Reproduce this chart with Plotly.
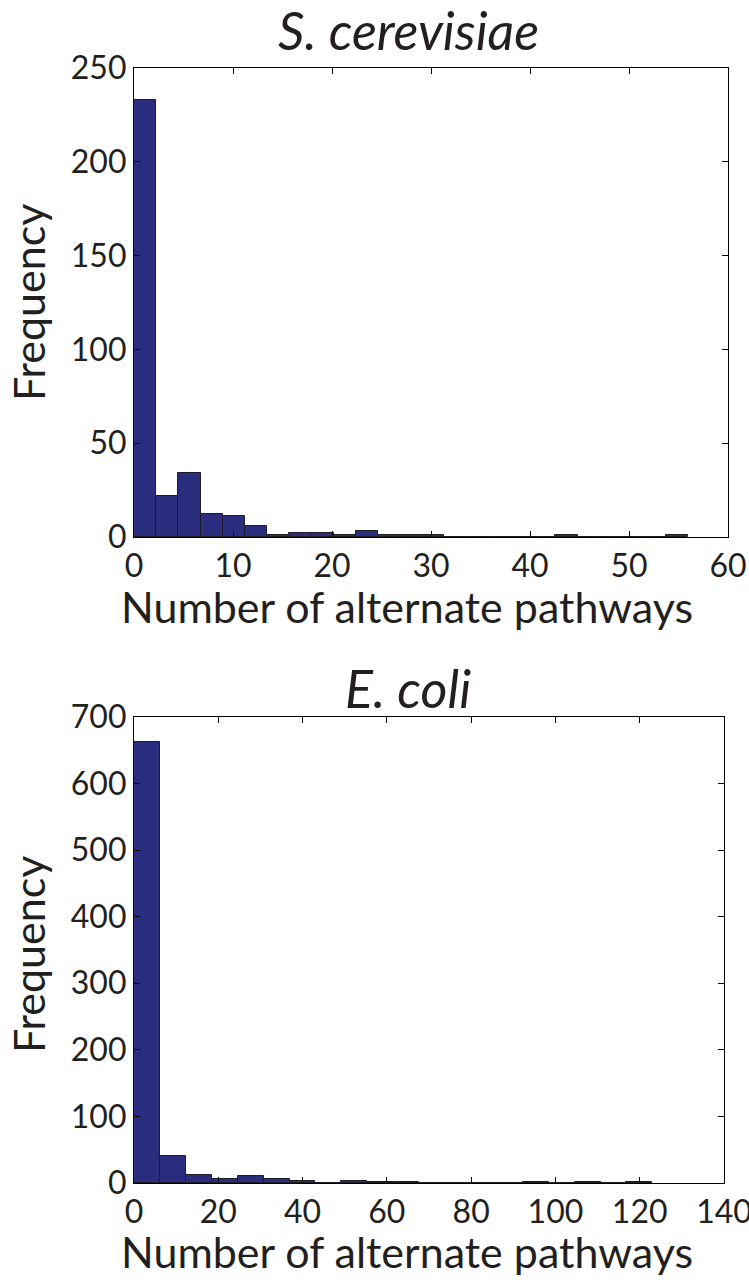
import plotly.graph_objects as go

# S. cerevisiae histogram (25 bins from 0, width 2.24)
sc_bin_start = 0.0
sc_bin_width = 2.24
sc_counts = [233, 22, 34, 12, 11, 6, 1, 2, 2, 1, 3, 1, 1, 1, 0, 0, 0, 0, 0, 1, 0, 0, 0, 0, 1]

# E. coli histogram (20 bins from 0, width 6.15)
ec_bin_start = 0.0
ec_bin_width = 6.15
ec_counts = [662, 40, 12, 6, 10, 6, 3, 0, 3, 2, 1, 0, 0, 0, 0, 1, 0, 1, 0, 1]

sc_xticks = [0, 10, 20, 30, 40, 50, 60]
sc_yticks = [0, 50, 100, 150, 200, 250]
ec_xticks = [0, 20, 40, 60, 80, 100, 120, 140]
ec_yticks = [0, 100, 200, 300, 400, 500, 600, 700]

titles = ["<i>S. cerevisiae</i>", "<i>E. coli</i>"]
xlabel = "Number of alternate pathways"
ylabel = "Frequency"

BAR = "rgb(43,45,127)"
EDGE = "rgb(30,30,40)"
FONT = "Lato"

def centers(start, width, counts):
    return [start + width * (i + 0.5) for i in range(len(counts))]

fig = go.Figure()
fig.add_trace(go.Bar(x=centers(sc_bin_start, sc_bin_width, sc_counts), y=sc_counts,
                     width=sc_bin_width, marker=dict(color=BAR, line=dict(color=EDGE, width=1)),
                     xaxis="x", yaxis="y", showlegend=False))
fig.add_trace(go.Bar(x=centers(ec_bin_start, ec_bin_width, ec_counts), y=ec_counts,
                     width=ec_bin_width, marker=dict(color=BAR, line=dict(color=EDGE, width=1)),
                     xaxis="x2", yaxis="y2", showlegend=False))

W, H = 749, 1280
top_dom_x = [134 / W, 728 / W]
top_dom_y = [1 - 537 / H, 1 - 68 / H]
bot_dom_x = [134 / W, 724 / W]
bot_dom_y = [1 - 1183 / H, 1 - 717 / H]

axis_common = dict(showline=True, linecolor="black", linewidth=1.2, mirror="ticks",
                   ticks="inside", ticklen=6, tickcolor="black", tickwidth=1,
                   showgrid=False, zeroline=False, automargin=False,
                   ticklabeloverflow="allow",
                   tickfont=dict(family=FONT, size=32, color="#231f20"))

fig.update_layout(
    width=W, height=H, margin=dict(l=0, r=0, t=0, b=0, autoexpand=False),
    paper_bgcolor="white", plot_bgcolor="white", bargap=0,
    xaxis=dict(domain=top_dom_x, range=[0, 60], tickvals=sc_xticks, anchor="y", **axis_common),
    yaxis=dict(domain=top_dom_y, range=[0, 250], tickvals=sc_yticks, anchor="x", **axis_common),
    xaxis2=dict(domain=bot_dom_x, range=[0, 140], tickvals=ec_xticks, anchor="y2", **axis_common),
    yaxis2=dict(domain=bot_dom_y, range=[0, 700], tickvals=ec_yticks, anchor="x2", **axis_common),
)

tcol = "#231f20"
anns = []
# titles
anns.append(dict(text=titles[0], x=408 / W, y=1 - 30 / H, xref="paper", yref="paper",
                 showarrow=False, font=dict(family=FONT, size=52, color=tcol), xanchor="center", yanchor="middle"))
anns.append(dict(text=titles[1], x=408 / W, y=1 - 688 / H, xref="paper", yref="paper",
                 showarrow=False, font=dict(family=FONT, size=52, color=tcol), xanchor="center", yanchor="middle"))
# x labels
anns.append(dict(text=xlabel, x=407 / W, y=1 - 606 / H, xref="paper", yref="paper",
                 showarrow=False, font=dict(family=FONT, size=43, color=tcol), xanchor="center", yanchor="middle"))
anns.append(dict(text=xlabel, x=407 / W, y=1 - 1251 / H, xref="paper", yref="paper",
                 showarrow=False, font=dict(family=FONT, size=43, color=tcol), xanchor="center", yanchor="middle"))
# y labels
anns.append(dict(text=ylabel, x=28 / W, y=1 - 303 / H, xref="paper", yref="paper", textangle=-90,
                 showarrow=False, font=dict(family=FONT, size=43, color=tcol), xanchor="center", yanchor="middle"))
anns.append(dict(text=ylabel, x=28 / W, y=1 - 955 / H, xref="paper", yref="paper", textangle=-90,
                 showarrow=False, font=dict(family=FONT, size=43, color=tcol), xanchor="center", yanchor="middle"))
fig.update_layout(annotations=anns)

fig.write_html("out.html", config={"displayModeBar": False},
               post_script="document.body.style.margin='0px';document.body.style.overflow='hidden';")
